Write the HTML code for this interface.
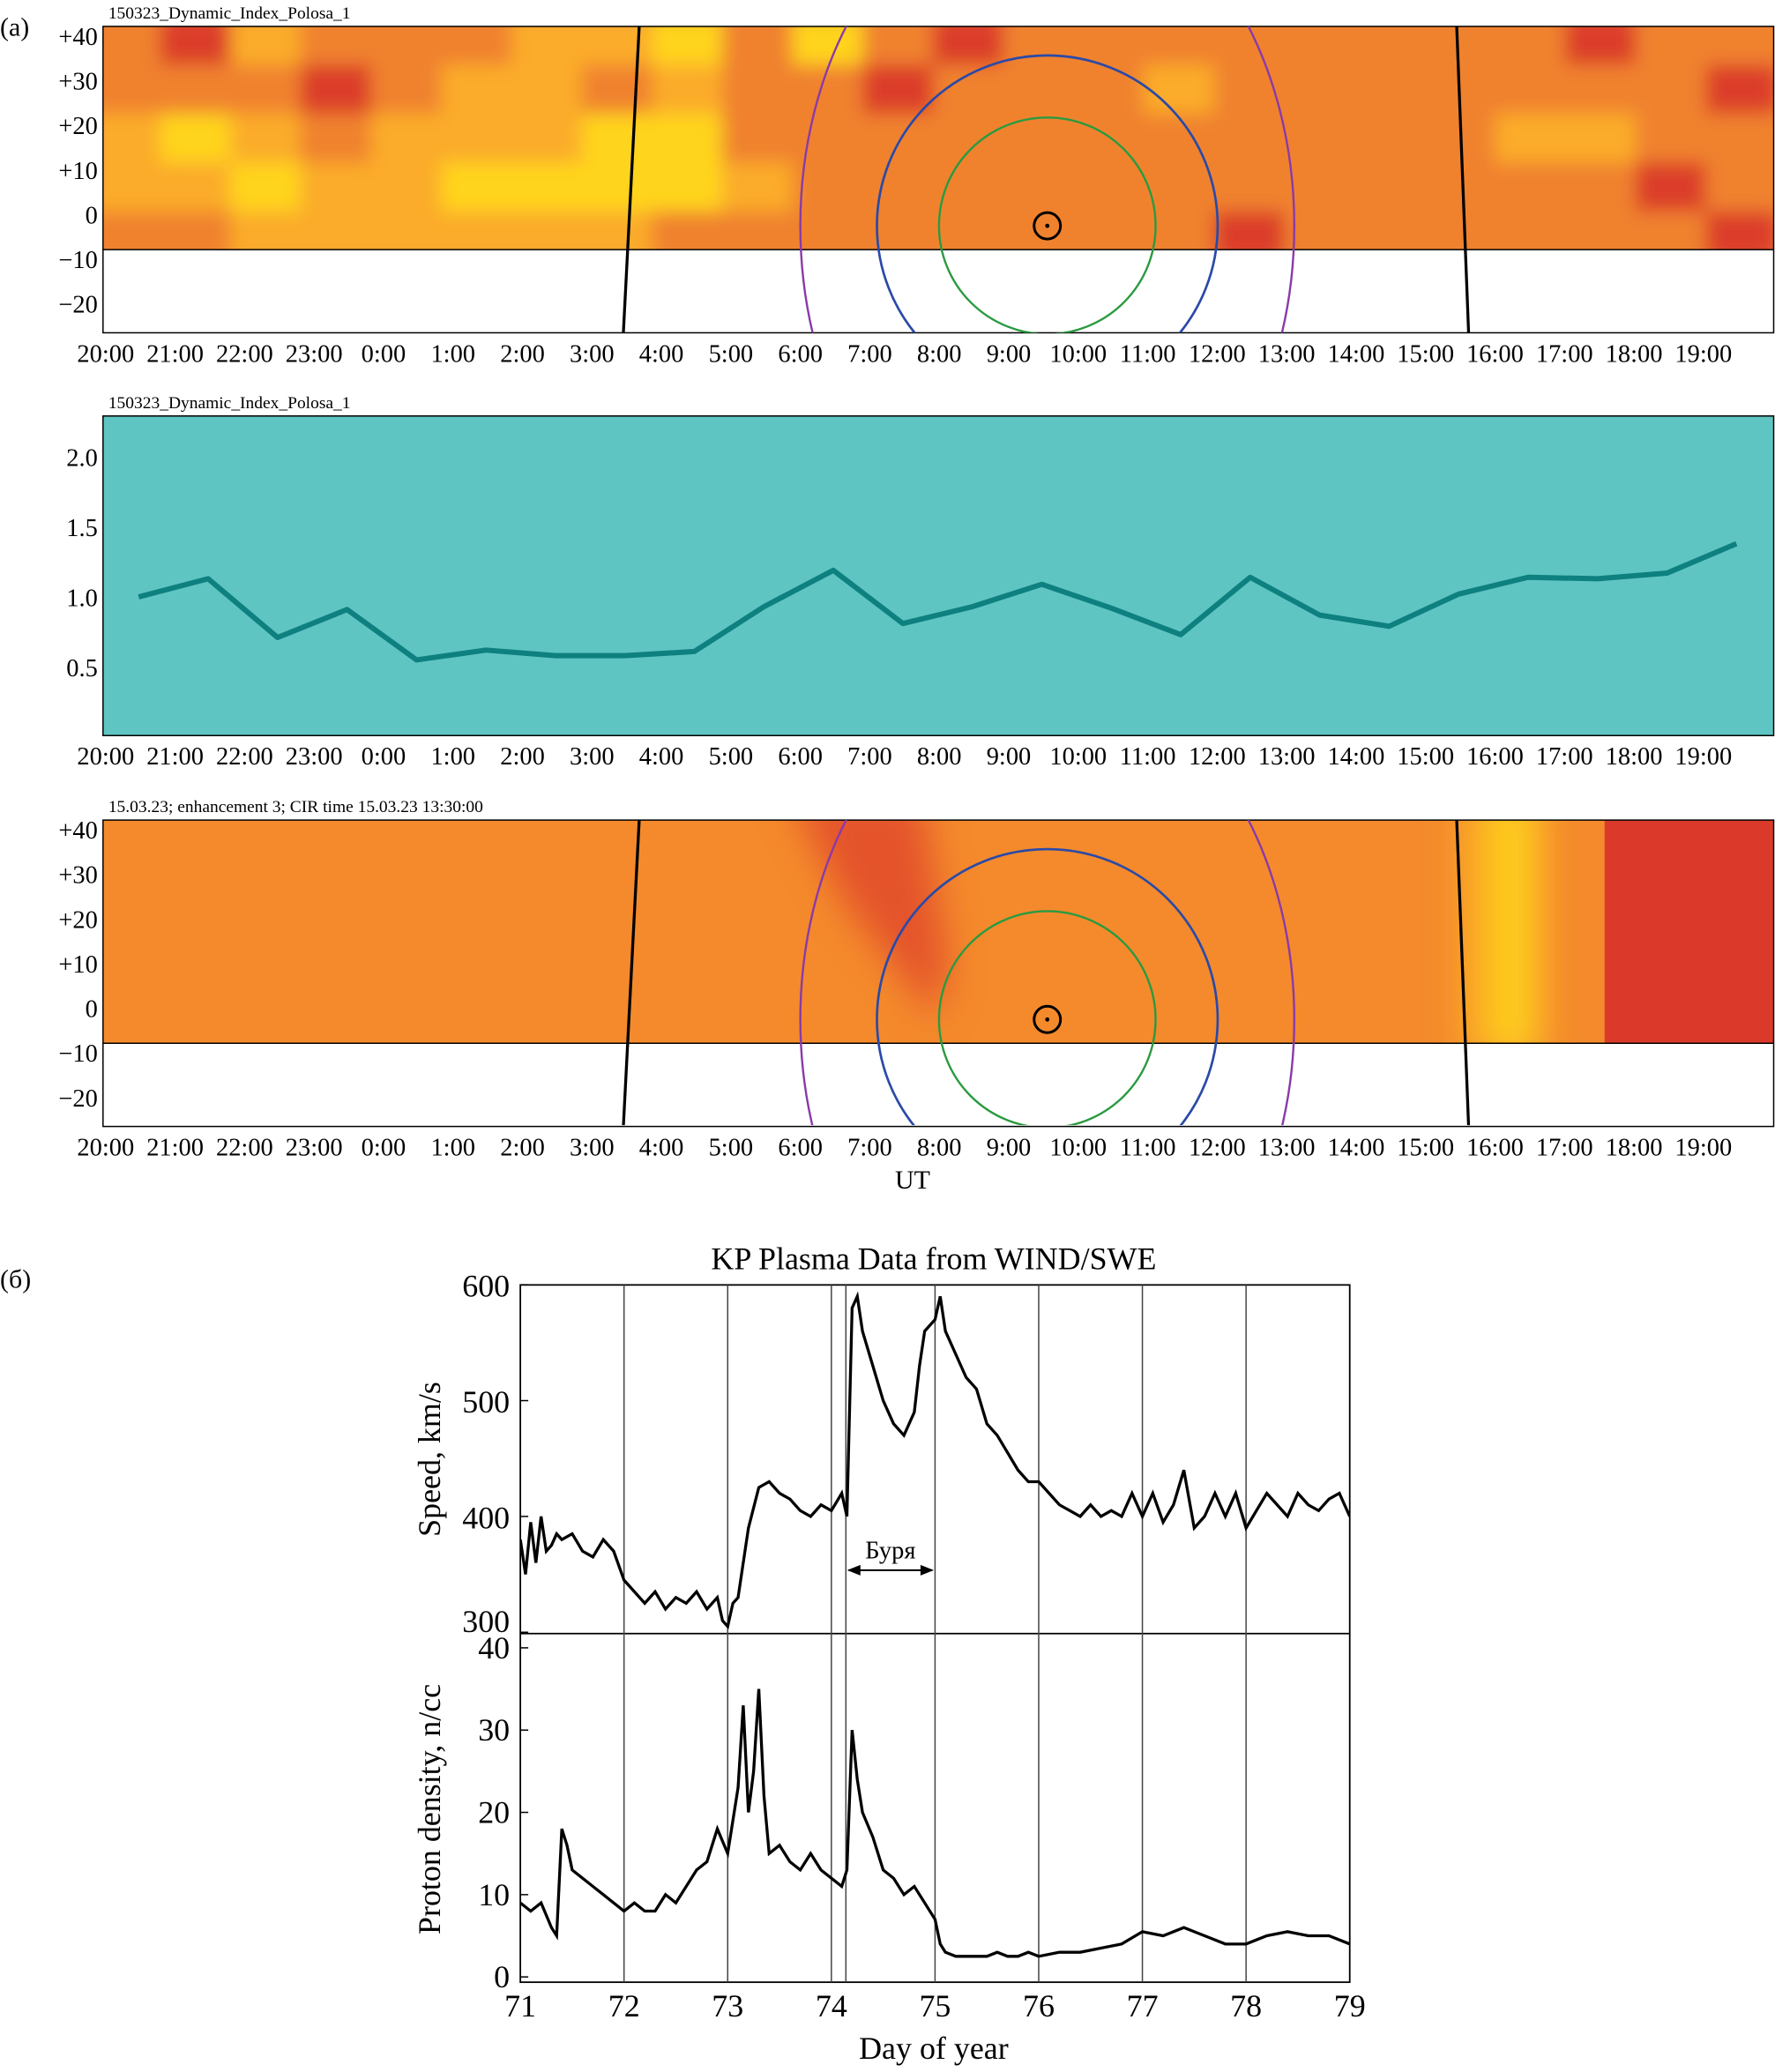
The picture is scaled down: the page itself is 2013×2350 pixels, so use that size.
<!DOCTYPE html>
<html><head><meta charset="utf-8">
<style>
html,body{margin:0;padding:0;background:#fff;}
svg{display:block;font-family:"Liberation Serif",serif;}
</style></head>
<body>
<svg id="fig" width="2013" height="2350" viewBox="0 0 1344 1569" xmlns="http://www.w3.org/2000/svg">
<defs>
<filter id="blur" x="-5%" y="-20%" width="110%" height="140%"><feGaussianBlur stdDeviation="7"/></filter>
<filter id="blur2" x="-20%" y="-20%" width="140%" height="140%"><feGaussianBlur stdDeviation="14"/></filter>
<clipPath id="clipA"><rect x="78" y="20" width="1265" height="232"/></clipPath>
<clipPath id="clipAc"><rect x="78" y="20" width="1265" height="169"/></clipPath>
<clipPath id="clipC"><rect x="78" y="621" width="1265" height="231"/></clipPath>
<clipPath id="clipCc"><rect x="78" y="621" width="1265" height="169"/></clipPath>
<clipPath id="clipS"><rect x="394" y="973" width="628" height="264"/></clipPath>
<clipPath id="clipD"><rect x="394" y="1237" width="628" height="264"/></clipPath>
</defs>
<g id="root"></g>
</svg>
<script>
// ---- data ----
const hourLabels=["20:00","21:00","22:00","23:00","0:00","1:00","2:00","3:00","4:00","5:00","6:00","7:00","8:00","9:00","10:00","11:00","12:00","13:00","14:00","15:00","16:00","17:00","18:00","19:00"];
const latTicks=[40,30,20,10,0,-10,-20];
const heatRow0=[2,3,1,2,2,2,1,1,0,2,0,2,3,2,2,2,2,2,2,2,2,3,2,2];
const heatRow1=[2,2,2,3,2,1,1,2,1,2,2,3,2,2,2,1,2,2,2,2,2,2,2,3];
const heatRow2=[1,0,1,2,1,1,1,0,0,2,2,2,2,2,2,2,2,2,2,2,1,1,2,2];
const heatRow3=[1,1,0,1,1,0,0,0,0,1,2,2,2,2,2,2,2,2,2,2,2,2,3,2];
const heatRow4=[2,2,1,1,1,1,1,1,2,2,2,2,2,2,2,2,3,2,2,2,2,2,2,3];
const indexTicks=[2.0,1.5,1.0,0.5];
const indexValues=[1.0,1.13,0.71,0.91,0.55,0.62,0.58,0.58,0.61,0.93,1.19,0.81,0.93,1.09,0.92,0.73,1.14,0.87,0.79,1.02,1.14,1.13,1.17,1.38];
const dayTicks=[71,72,73,74,75,76,77,78,79];
const speedTicks=[300,400,500,600];
const densTicks=[0,10,20,30,40];
const eventDays=[72,73,74,74.14,75,76,77,78];
const speedDays=[71,71.05,71.1,71.15,71.2,71.25,71.3,71.35,71.4,71.5,71.6,71.7,71.8,71.9,72,72.1,72.2,72.3,72.4,72.5,72.6,72.7,72.8,72.9,72.95,73,73.05,73.1,73.2,73.3,73.4,73.5,73.6,73.7,73.8,73.9,74,74.1,74.15,74.2,74.25,74.3,74.4,74.5,74.6,74.7,74.8,74.85,74.9,75,75.05,75.1,75.2,75.3,75.4,75.5,75.6,75.7,75.8,75.9,76,76.1,76.2,76.3,76.4,76.5,76.6,76.7,76.8,76.9,77,77.1,77.2,77.3,77.4,77.5,77.6,77.7,77.8,77.9,78,78.1,78.2,78.3,78.4,78.5,78.6,78.7,78.8,78.9,79];
const speedValues=[380,350,395,360,400,370,375,385,380,385,370,365,380,370,345,335,325,335,320,330,325,335,320,330,310,305,325,330,390,425,430,420,415,405,400,410,405,420,400,580,590,560,530,500,480,470,490,530,560,570,590,560,540,520,510,480,470,455,440,430,430,420,410,405,400,410,400,405,400,420,400,420,395,410,440,390,400,420,400,420,390,405,420,410,400,420,410,405,415,420,400];
const densDays=[71,71.1,71.2,71.3,71.35,71.4,71.45,71.5,71.6,71.7,71.8,71.9,72,72.1,72.2,72.3,72.4,72.5,72.6,72.7,72.8,72.9,73,73.1,73.15,73.2,73.25,73.3,73.35,73.4,73.5,73.6,73.7,73.8,73.9,74,74.1,74.15,74.2,74.25,74.3,74.4,74.5,74.6,74.7,74.8,74.9,75,75.05,75.1,75.2,75.3,75.4,75.5,75.6,75.7,75.8,75.9,76,76.2,76.4,76.6,76.8,77,77.2,77.4,77.6,77.8,78,78.2,78.4,78.6,78.8,79];
const densValues=[9,8,9,6,5,18,16,13,12,11,10,9,8,9,8,8,10,9,11,13,14,18,15,23,33,20,25,35,22,15,16,14,13,15,13,12,11,13,30,24,20,17,13,12,10,11,9,7,4,3,2.5,2.5,2.5,2.5,3,2.5,2.5,3,2.5,3,3,3.5,4,5.5,5,6,5,4,4,5,5.5,5,5,4];

// ---- helpers ----
const NS="http://www.w3.org/2000/svg";
const root=document.getElementById('root');
function mk(tag,attrs,parent){const e=document.createElementNS(NS,tag);for(const k in attrs)e.setAttribute(k,attrs[k]);(parent||root).appendChild(e);return e;}
function txt(x,y,s,size,anchor,parent){const t=mk('text',{x:x,y:y,'font-size':size,'text-anchor':anchor||'middle',fill:'#000'},parent);t.textContent=s;return t;}

const X0=78,X1=1343,HR=52.6;
function xHour(i){return 80+HR*i;}

function heatPanel(top,label,name,heat){
  const g=mk('g',{});
  
  
  const yLat=v=>top+142-3.4*v*1; // 0 at top+142
  const cg=mk('g',{'clip-path':heat?'url(#clipAc)':'url(#clipCc)'},g);
  if(heat){
    const colors=['#ffd41a','#fbac2a','#f0822e','#db3d2a'];
    const rows=[heatRow0,heatRow1,heatRow2,heatRow3,heatRow4];
    mk('rect',{x:X0,y:top,width:X1-X0,height:169,fill:'#f0822e'},cg);
    const bg=mk('g',{filter:'url(#blur)'},cg);
    rows.forEach((row,r)=>row.forEach((v,c)=>{
      const cell=mk('rect',{x:X0-10+c*53.2,y:top-8+r*37,width:54,height:38,fill:colors[v]},bg);
      
      
    }));
  } else {
    mk('rect',{x:X0,y:top,width:X1-X0,height:169,fill:'#f48a2c'},cg);
    const bg=mk('g',{filter:'url(#blur2)'},cg);
    mk('polygon',{points:(X0+520)+','+(top-20)+' '+(X0+620)+','+(top-20)+' '+(X0+640)+','+(top+110)+' '+(X0+630)+','+(top+150)+' '+(X0+560)+','+(top+60),fill:'#e4522a'},bg);
    mk('rect',{x:1110,y:top-20,width:50,height:200,fill:'#fbb622'},bg);
    mk('rect',{x:1135,y:top-20,width:30,height:200,fill:'#ffd21a'},bg);
    const red=mk('rect',{x:1215,y:top,width:130,height:169,fill:'#db3a2a'},cg);
    
    
  }
  // frame
  mk('rect',{x:X0,y:top,width:X1-X0,height:232,fill:'none',stroke:'#000','stroke-width':1},g);
  mk('line',{x1:X0,y1:top+169,x2:X1,y2:top+169,stroke:'#000','stroke-width':1},g);
  const og=mk('g',{'clip-path':heat?'url(#clipA)':'url(#clipC)',fill:'none'},g);
  mk('line',{x1:484,y1:top,x2:472,y2:top+232,stroke:'#000','stroke-width':2.2},og);
  mk('line',{x1:1103,y1:top,x2:1112,y2:top+232,stroke:'#000','stroke-width':2.2},og);
  const cy=top+151;
  mk('ellipse',{cx:793,cy:cy,rx:187,ry:260,stroke:'#8a3aa8','stroke-width':1.6},og);
  mk('circle',{cx:793,cy:cy,r:129,stroke:'#2a4aa8','stroke-width':1.8},og);
  mk('circle',{cx:793,cy:cy,r:82,stroke:'#2a9a40','stroke-width':1.6},og);
  mk('circle',{cx:793,cy:cy,r:10,stroke:'#000','stroke-width':2},og);
  mk('circle',{cx:793,cy:cy,r:1.6,fill:'#000'},og);
  txt(82,top-6,label,13,'start',g);
  latTicks.forEach((v,i)=>{
    const s=v>0?'+'+v:(v<0?'\u2212'+(-v):'0');
    txt(74,top+14+i*33.8,s,19,'end',g);
  });
  hourLabels.forEach((h,i)=>txt(xHour(i),top+254,h,19,'middle',g));
}

heatPanel(20,'150323_Dynamic_Index_Polosa_1','panel-a-map',true);
heatPanel(621,'15.03.23; enhancement 3; CIR time 15.03.23 13:30:00','panel-a-model',false);
txt(0,27,'(a)',20,'start');
txt(691,900,'UT',20,'middle');

// index panel
(function(){
  const g=mk('g',{});
  
  
  const top=315,bot=557;
  const y=v=>452-(v-1)*106;
  mk('rect',{x:X0,y:top,width:X1-X0,height:bot-top,fill:'#5fc5c2',stroke:'#000','stroke-width':1},g);
  txt(82,309,'150323_Dynamic_Index_Polosa_1',13,'start',g);
  indexTicks.forEach(v=>txt(74,y(v)+7,v.toFixed(1),19,'end',g));
  hourLabels.forEach((h,i)=>txt(xHour(i),579,h,19,'middle',g));
  const pts=indexValues.map((v,i)=>(105+HR*i)+','+y(v)).join(' ');
  const pl=mk('polyline',{points:pts,fill:'none',stroke:'#0e8080','stroke-width':4,'stroke-linejoin':'round'},g);
  
  
})();

// plasma panel
(function(){
  const g=mk('g',{});
  
  
  const L=394,R=1022;
  const x=d=>L+(d-71)*(R-L)/8;
  const yS=v=>1236-(v-300)*0.877;
  const yD=v=>1497-v*6.23;
  txt(0,975,'(б)',20,'start').setAttribute('font-family','"Liberation Serif","Noto Serif CJK SC",serif');
  txt(707,961,'KP Plasma Data from WIND/SWE',24,'middle',g);
  mk('rect',{x:L,y:973,width:R-L,height:528,fill:'none',stroke:'#000','stroke-width':1.2},g);
  mk('line',{x1:L,y1:1237,x2:R,y2:1237,stroke:'#000','stroke-width':1.2},g);
  eventDays.forEach(d=>mk('line',{x1:x(d),y1:973,x2:x(d),y2:1501,stroke:'#444','stroke-width':1},g));
  speedTicks.forEach(v=>{txt(386,yS(v)+(v===300?0:9),String(v),24,'end',g);mk('line',{x1:L,y1:yS(v),x2:L+6,y2:yS(v),stroke:'#000'},g);});
  densTicks.forEach(v=>{txt(386,yD(v)+8,String(v),24,'end',g);mk('line',{x1:L,y1:yD(v),x2:L+6,y2:yD(v),stroke:'#000'},g);});
  dayTicks.forEach(d=>txt(x(d),1527,String(d),24,'middle',g));
  txt(707,1559,'Day of year',24,'middle',g);
  const t1=txt(0,0,'Speed, km/s',24,'middle',g);t1.setAttribute('transform','translate(333,1105) rotate(-90)');
  const t2=txt(0,0,'Proton density, n/cc',24,'middle',g);t2.setAttribute('transform','translate(333,1370) rotate(-90)');
  const sp=mk('polyline',{points:speedDays.map((d,i)=>x(d)+','+yS(speedValues[i])).join(' '),fill:'none',stroke:'#000','stroke-width':2.2,'clip-path':'url(#clipS)'},g);
  
  
  const dn=mk('polyline',{points:densDays.map((d,i)=>x(d)+','+yD(densValues[i])).join(' '),fill:'none',stroke:'#000','stroke-width':2.2,'clip-path':'url(#clipD)'},g);
  
  
  // storm arrow
  mk('line',{x1:x(74.14)+2,y1:1189,x2:x(75)-2,y2:1189,stroke:'#000','stroke-width':1.3},g);
  mk('polygon',{points:(x(74.14)+1)+',1189 '+(x(74.14)+11)+',1185 '+(x(74.14)+11)+',1193',fill:'#000'},g);
  mk('polygon',{points:(x(75)-1)+',1189 '+(x(75)-11)+',1185 '+(x(75)-11)+',1193',fill:'#000'},g);
  const st=txt((x(74.14)+x(75))/2,1180,'Буря',19,'middle',g);
  
  
})();
</script>
</body></html>
